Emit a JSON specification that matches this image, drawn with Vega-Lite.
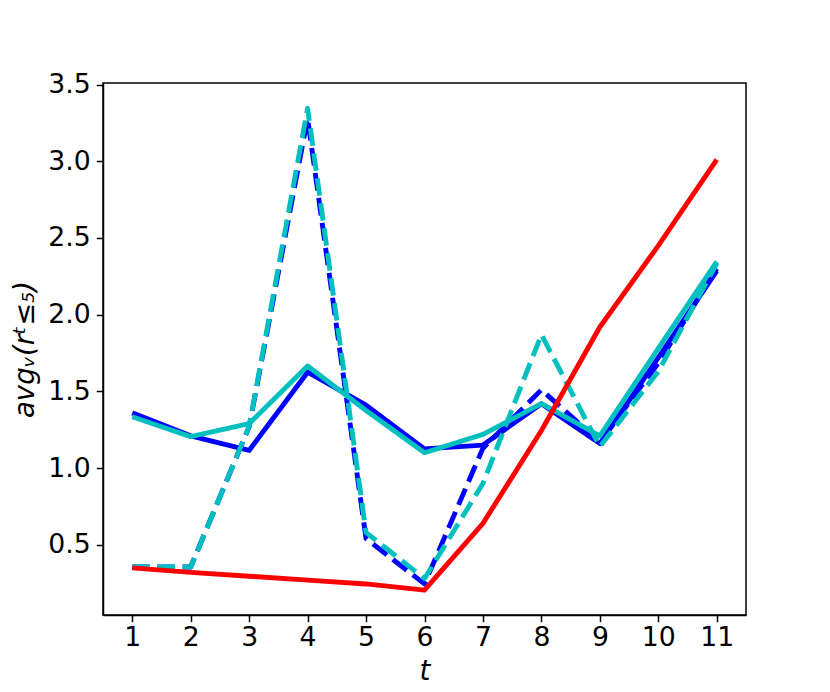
{
  "$schema": "https://vega.github.io/schema/vega-lite/v6.json",
  "width": 643,
  "height": 532,
  "autosize": {"type": "none"},
  "padding": {"left": 103, "top": 83, "right": 84, "bottom": 77},
  "background": "white",
  "config": {
    "view": {"stroke": "black", "strokeWidth": 1.5},
    "axis": {
      "grid": false,
      "domainColor": "black",
      "domainWidth": 1.5,
      "tickColor": "black",
      "tickWidth": 1.5,
      "tickSize": 6.7,
      "labelFont": "DejaVu Sans",
      "labelFontSize": 26.7,
      "labelColor": "black",
      "titleFont": "DejaVu Sans",
      "titleFontSize": 27.5,
      "titleFontWeight": "normal",
      "titleFontStyle": "italic",
      "titleColor": "black"
    }
  },
  "data": {
    "values": [
      {"t": 1, "s": "blue_solid", "v": 1.36}, {"t": 2, "s": "blue_solid", "v": 1.21}, {"t": 3, "s": "blue_solid", "v": 1.115}, {"t": 4, "s": "blue_solid", "v": 1.625}, {"t": 5, "s": "blue_solid", "v": 1.41}, {"t": 6, "s": "blue_solid", "v": 1.125}, {"t": 7, "s": "blue_solid", "v": 1.15}, {"t": 8, "s": "blue_solid", "v": 1.42}, {"t": 9, "s": "blue_solid", "v": 1.16}, {"t": 10, "s": "blue_solid", "v": 1.72}, {"t": 11, "s": "blue_solid", "v": 2.285},
      {"t": 1, "s": "blue_dash", "v": 0.355}, {"t": 2, "s": "blue_dash", "v": 0.355}, {"t": 3, "s": "blue_dash", "v": 1.27}, {"t": 4, "s": "blue_dash", "v": 3.28}, {"t": 5, "s": "blue_dash", "v": 0.54}, {"t": 6, "s": "blue_dash", "v": 0.245}, {"t": 7, "s": "blue_dash", "v": 1.13}, {"t": 8, "s": "blue_dash", "v": 1.51}, {"t": 9, "s": "blue_dash", "v": 1.17}, {"t": 10, "s": "blue_dash", "v": 1.685}, {"t": 11, "s": "blue_dash", "v": 2.3},
      {"t": 1, "s": "cyan_solid", "v": 1.335}, {"t": 2, "s": "cyan_solid", "v": 1.205}, {"t": 3, "s": "cyan_solid", "v": 1.29}, {"t": 4, "s": "cyan_solid", "v": 1.665}, {"t": 5, "s": "cyan_solid", "v": 1.375}, {"t": 6, "s": "cyan_solid", "v": 1.1}, {"t": 7, "s": "cyan_solid", "v": 1.22}, {"t": 8, "s": "cyan_solid", "v": 1.42}, {"t": 9, "s": "cyan_solid", "v": 1.21}, {"t": 10, "s": "cyan_solid", "v": 1.78}, {"t": 11, "s": "cyan_solid", "v": 2.345},
      {"t": 1, "s": "cyan_dash", "v": 0.355}, {"t": 2, "s": "cyan_dash", "v": 0.355}, {"t": 3, "s": "cyan_dash", "v": 1.27}, {"t": 4, "s": "cyan_dash", "v": 3.345}, {"t": 5, "s": "cyan_dash", "v": 0.58}, {"t": 6, "s": "cyan_dash", "v": 0.28}, {"t": 7, "s": "cyan_dash", "v": 0.9}, {"t": 8, "s": "cyan_dash", "v": 1.87}, {"t": 9, "s": "cyan_dash", "v": 1.14}, {"t": 10, "s": "cyan_dash", "v": 1.63}, {"t": 11, "s": "cyan_dash", "v": 2.335},
      {"t": 1, "s": "red", "v": 0.35}, {"t": 2, "s": "red", "v": 0.32}, {"t": 3, "s": "red", "v": 0.295}, {"t": 4, "s": "red", "v": 0.27}, {"t": 5, "s": "red", "v": 0.245}, {"t": 6, "s": "red", "v": 0.205}, {"t": 7, "s": "red", "v": 0.64}, {"t": 8, "s": "red", "v": 1.245}, {"t": 9, "s": "red", "v": 1.92}, {"t": 10, "s": "red", "v": 2.45}, {"t": 11, "s": "red", "v": 3.01}
    ]
  },
  "encoding": {
    "x": {
      "field": "t", "type": "quantitative",
      "scale": {"domain": [0.5, 11.5], "nice": false, "zero": false},
      "axis": {"values": [1,2,3,4,5,6,7,8,9,10,11], "title": "t", "labelPadding": 3, "titlePadding": 6, "labelFlush": false}
    },
    "y": {
      "field": "v", "type": "quantitative",
      "scale": {"domain": [0.0425, 3.51], "nice": false, "zero": false},
      "axis": {"values": [0.5,1,1.5,2,2.5,3,3.5], "format": ".1f", "title": "avgᵥ(rᵗ≤₅)", "labelPadding": 6, "titlePadding": 8, "labelFlush": false}
    }
  },
  "layer": [
    {"transform": [{"filter": "datum.s === 'blue_solid'"}], "mark": {"type": "line", "color": "#0000FF", "strokeWidth": 4.9, "strokeJoin": "round", "strokeCap": "butt"}},
    {"transform": [{"filter": "datum.s === 'blue_dash'"}], "mark": {"type": "line", "color": "#0000FF", "strokeWidth": 4.9, "strokeDash": [17.6, 7.6], "strokeJoin": "round", "strokeCap": "butt"}},
    {"transform": [{"filter": "datum.s === 'cyan_solid'"}], "mark": {"type": "line", "color": "#00BFBF", "strokeWidth": 4.9, "strokeJoin": "round", "strokeCap": "butt"}},
    {"transform": [{"filter": "datum.s === 'cyan_dash'"}], "mark": {"type": "line", "color": "#00BFBF", "strokeWidth": 4.9, "strokeDash": [17.6, 7.6], "strokeJoin": "round", "strokeCap": "butt"}},
    {"transform": [{"filter": "datum.s === 'red'"}], "mark": {"type": "line", "color": "#FF0000", "strokeWidth": 4.9, "strokeJoin": "round", "strokeCap": "butt"}}
  ]
}
